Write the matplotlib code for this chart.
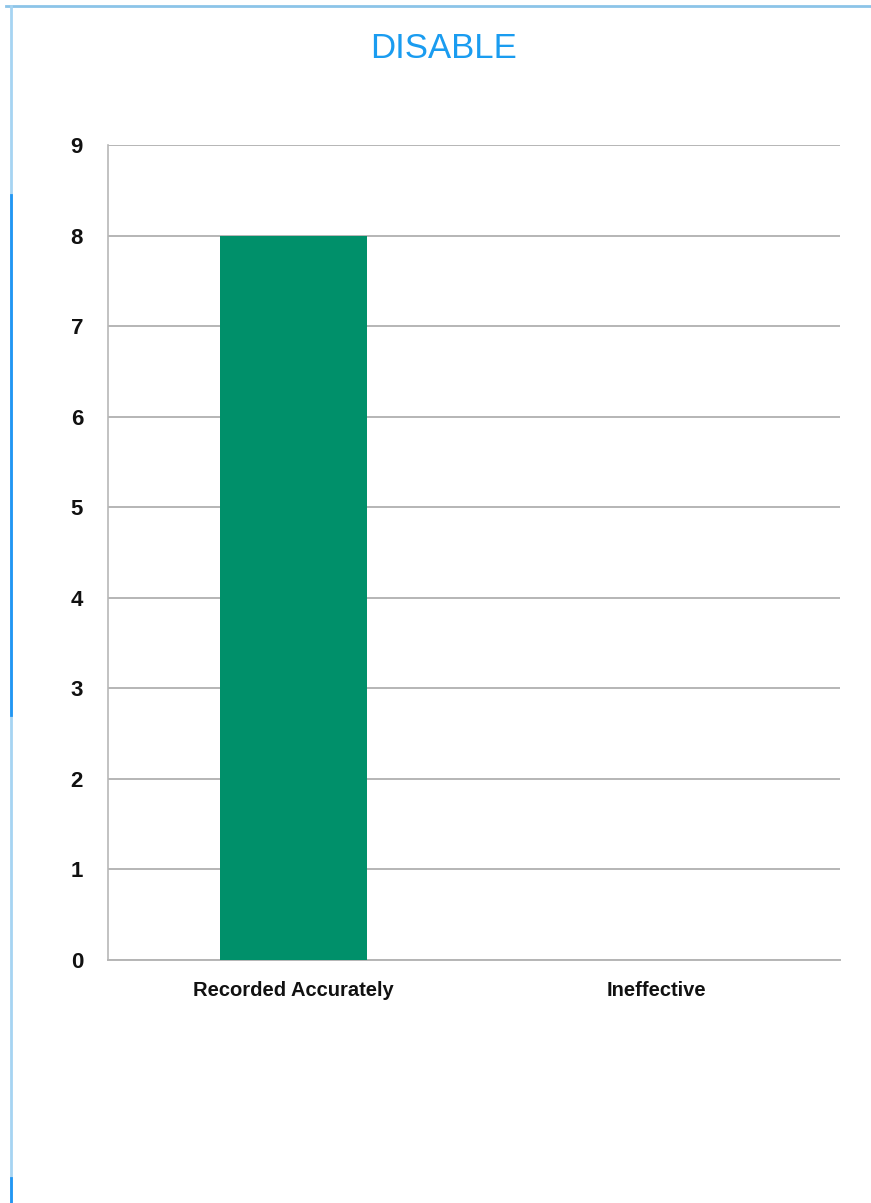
import matplotlib
matplotlib.use("Agg")
import matplotlib.pyplot as plt
from matplotlib.lines import Line2D

plt.rcParams['font.family'] = ['Liberation Sans', 'DejaVu Sans']

title = "DISABLE"
categories = ["Recorded Accurately", "Ineffective"]
values = [8, 0]
y_ticks = list(range(0, 10))

W, H = 871, 1203
fig = plt.figure(figsize=(W / 100, H / 100), dpi=100)
fig.patch.set_facecolor("white")

left, right, top, bottom = 108, 840, 145, 960
ax = fig.add_axes([left / W, 1 - bottom / H, (right - left) / W, (bottom - top) / H])

x = list(range(len(categories)))
ax.bar(x, values, width=0.405, color="#00906a", zorder=3)

ax.set_xlim(-0.51, 1.505)
ax.set_ylim(0, 9)
ax.set_yticks(y_ticks)
ax.set_yticklabels([str(t) for t in y_ticks], fontsize=16, fontweight="bold",
                   color="#111111")
ax.set_xticks(x)
ax.set_xticklabels(categories, fontsize=14.5, fontweight="bold", color="#111111")
ax.tick_params(axis="both", length=0)
ax.tick_params(axis="y", pad=18)
ax.tick_params(axis="x", pad=15)
for lbl in ax.get_xticklabels():
    lbl.set_fontstretch("condensed")

ax.grid(axis="y", color="#b5b5b5", linewidth=1.4, zorder=0)
for side in ("top", "right"):
    ax.spines[side].set_visible(False)
ax.spines["left"].set_color("#b8b8b8")
ax.spines["left"].set_linewidth(1.2)
ax.spines["bottom"].set_color("#b5b5b5")
ax.spines["bottom"].set_linewidth(1.4)

fig.text(443 / W, 1 - 48 / H, title, color="#1a9cf0", fontsize=25,
         ha="center", va="center")

# page border
fig.add_artist(Line2D([6 / W, 1], [1 - 6 / H, 1 - 6 / H], color="#8cc4e8",
                      linewidth=2, transform=fig.transFigure))
fig.add_artist(Line2D([11 / W, 11 / W], [0, 1 - 6 / H], color="#a6d4f2",
                      linewidth=2, transform=fig.transFigure))
fig.add_artist(Line2D([11 / W, 11 / W], [1 - 715 / H, 1 - 195 / H], color="#2196f3",
                      linewidth=2, transform=fig.transFigure))
fig.add_artist(Line2D([11 / W, 11 / W], [0, 1 - 1178 / H], color="#2196f3",
                      linewidth=2, transform=fig.transFigure))

fig.savefig("out.png", dpi=100, facecolor="white")
